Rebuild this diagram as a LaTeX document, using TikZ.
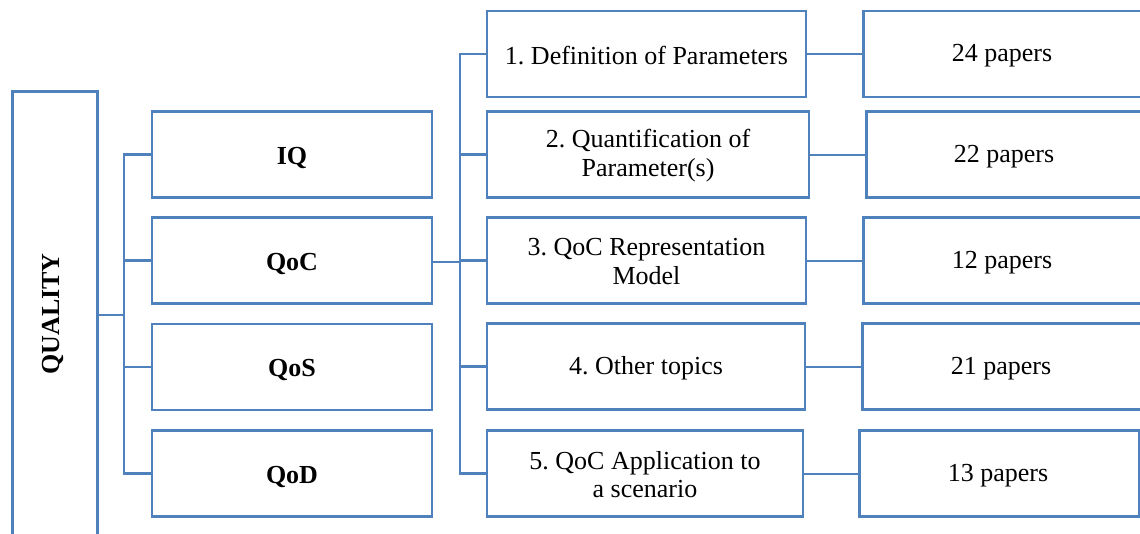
\documentclass[tikz,border=0pt]{standalone}
\usepackage{fontspec}
\setmainfont{Liberation Serif}
\definecolor{obl}{HTML}{4F81BD}
\begin{document}
\begin{tikzpicture}[x=1pt,y=-1pt,
  box/.style={draw=obl,line width=2.6pt,rectangle,inner sep=0pt},
  lvtwo/.style={box,minimum width=280pt,minimum height=86pt},
  lvthree/.style={box,minimum width=319pt,minimum height=86pt},
  lvfour/.style={box,minimum height=86pt},
  txt/.style={align=center,inner sep=0pt,font=\fontsize{26}{28.5}\selectfont\frenchspacing},
  btxt/.style={txt,font=\fontsize{26}{28.5}\selectfont\bfseries},
  conn/.style={draw=obl,line width=2.6pt},
  thin/.style={draw=obl,line width=2pt}]
\useasboundingbox (0,0) rectangle (1140,533);
\clip (0,0) rectangle (1140,533);
% root
\node[box,minimum width=85pt,minimum height=480pt,anchor=north west] (q) at (11,90) {};
\node[btxt,rotate=90] (qt) at (53,314) {QUALITY};
% level 2
\node[lvtwo] (iq)  at (292,154.5) {};
\node[lvtwo] (qoc) at (292,260.5) {};
\node[lvtwo] (qos) at (292,367) {};
\node[lvtwo] (qod) at (292,473.5) {};
\node[btxt] (iqt)  at (292,157.5) {IQ};
\node[btxt] (qoct) at (292,263.5) {QoC};
\node[btxt] (qost) at (292,370) {QoS};
\node[btxt] (qodt) at (292,476.5) {QoD};
% level 3
\node[lvthree] (d1) at (646.5,54) {};
\node[lvthree,minimum width=322pt] (d2) at (648,154.5) {};
\node[lvthree] (d3) at (646.5,260.5) {};
\node[lvthree,minimum width=318pt] (d4) at (646,366.5) {};
\node[lvthree,minimum width=316pt] (d5) at (645,473.5) {};
\node[txt] (d1t) at (646.5,56) {1. Definition of Parameters};
\node[txt] (d2t) at (648,155.5) {2. Quantification of\\Parameter(s)};
\node[txt] (d3t) at (646.5,261.5) {3. QoC Representation\\Model};
\node[txt] (d4t) at (646,368.5) {4. Other topics};
\node[txt] (d5t) at (645,474.5) {5. QoC Application to\\a scenario};
% level 4
\node[lvfour,minimum width=290pt,anchor=west] (p1) at (862,54) {};
\node[lvfour,minimum width=290pt,anchor=west] (p2) at (865,154.5) {};
\node[lvfour,minimum width=290pt,anchor=west] (p3) at (862,260.5) {};
\node[lvfour,minimum width=290pt,anchor=west] (p4) at (861,366.5) {};
\node[lvfour,minimum width=280pt,anchor=west] (p5) at (858,473.5) {};
\node[txt] (t1) at (1002,56) {24 papers};
\node[txt] (t2) at (1004,157) {22 papers};
\node[txt] (t3) at (1002,263) {12 papers};
\node[txt] (t4) at (1001,369) {21 papers};
\node[txt] (t5) at (998,475.5) {13 papers};
% trunks
\coordinate (j1) at (124,315);
\coordinate (j2) at (460,262);
\draw[conn] (q.east |- j1) -- (j1);
\draw[conn] (iq.west) -| (j1);
\draw[conn] (qoc.west) -| (j1);
\draw[conn] (qos.west) -| (j1);
\draw[conn] (qod.west) -| (j1);
\draw[conn] (qoc.east |- j2) -- (j2);
\draw[conn] (d1.west) -| (j2);
\draw[conn] (d2.west) -| (j2);
\draw[conn] (d3.west) -| (j2);
\draw[conn] (d4.west) -| (j2);
\draw[conn] (d5.west) -| (j2);
% level 3 to 4
\draw[thin] (d1.east) -- (p1.west);
\draw[thin] (d2.east) -- (p2.west);
\draw[thin] (d3.east) -- (p3.west);
\draw[thin] (d4.east) -- (p4.west);
\draw[thin] (d5.east) -- (p5.west);
\end{tikzpicture}
\end{document}
